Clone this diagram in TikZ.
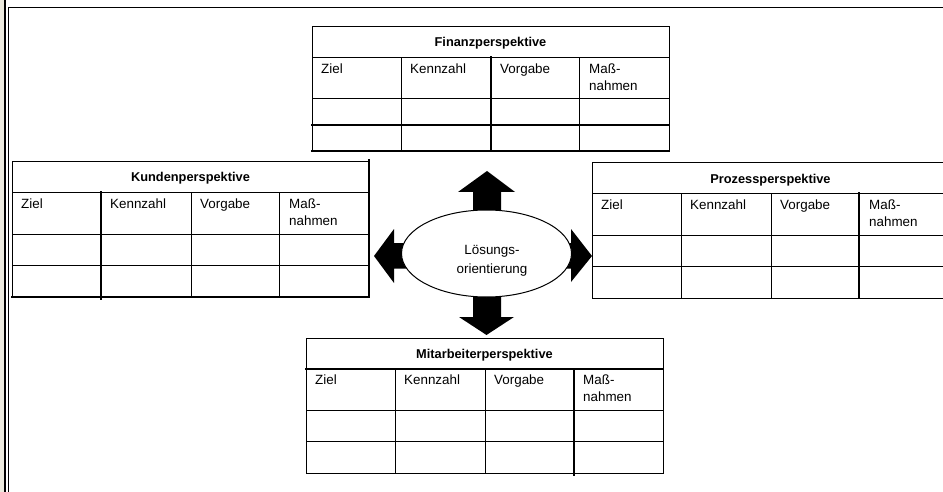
\documentclass[tikz,border=0pt]{standalone}
\usepackage{fontspec}
\setmainfont{Liberation Sans}
\usetikzlibrary{shapes.geometric}
\begin{document}
\definecolor{panel}{RGB}{236,234,222}
\tikzset{
  rule/.style={line width=1pt, line cap=rect},
  heavyrule/.style={line width=2pt, line cap=rect},
  tabtitle/.style={anchor=base, inner sep=0pt, font=\fontsize{12.8}{14}\selectfont\bfseries},
  tabhead/.style={anchor=base west, inner sep=0pt, font=\fontsize{13.4}{17}\selectfont},
  blockarrow/.style={fill=black},
  hubshape/.style={ellipse, draw, line width=1pt, fill=white, minimum width=170pt, minimum height=87pt, inner sep=0pt},
  hubtext/.style={align=center, inner sep=0pt, font=\fontsize{13.4}{18.5}\selectfont}
}
% #1 name, #2 left, #3 top, #4 body row height, #5 title, #6 heavier rules (local coordinates)
\newcommand\perspectivetable[6]{%
  \begin{scope}[shift={(#2,#3)}]
    \pgfmathsetmacro\ya{30.5}
    \pgfmathsetmacro\yb{72}
    \pgfmathsetmacro\yc{72+#4}
    \pgfmathsetmacro\yd{72+2*#4}
    \draw[rule] (0,0) rectangle (357,\yd);
    \draw[rule] (0,\ya) -- (357,\ya) (0,\yb) -- (357,\yb) (0,\yc) -- (357,\yc);
    \draw[rule] (89,\ya) -- (89,\yd) (179,\ya) -- (179,\yd) (267,\ya) -- (267,\yd);
    #6
    \node[tabtitle] (#1-title) at (178.5,20) {#5};
    \node[tabhead] (#1-ziel) at (9,46.5) {Ziel};
    \node[tabhead] (#1-kennzahl) at (98,46.5) {Kennzahl};
    \node[tabhead] (#1-vorgabe) at (188,46.5) {Vorgabe};
    \node[tabhead] (#1-massnahmen) at (277,46.5)
      {\begin{tabular}[t]{@{}l@{}}Maß-\\nahmen\end{tabular}};
  \end{scope}}
\begin{tikzpicture}[x=1pt, y=-1pt]
  \useasboundingbox (0,0) rectangle (943,492);
  % page edge and frame
  \fill[panel] (0,0) rectangle (4,492);
  \draw[line width=2pt] (5,0) -- (5,492);
  \draw[line width=1pt] (8.5,492) -- (8.5,7.5) -- (943,7.5);

  % the four perspectives
  \perspectivetable{fin}{312}{27}{26}{Finanzperspektive}{%
    \draw[heavyrule] (0,\yc) -- (357,\yc) (0,\yd) -- (357,\yd) (179,\ya) -- (179,\yd);}
  \perspectivetable{kun}{12}{162}{31.5}{Kundenperspektive}{%
    \draw[heavyrule] (0,\yd) -- (357,\yd) (89,\ya) -- (89,\yd+2) (357,-2) -- (357,\yd);}
  \perspectivetable{pro}{592}{163}{31.5}{Prozessperspektive}{%
    \draw[heavyrule] (267,\ya) -- (267,\yd);}
  \perspectivetable{mit}{306}{338}{31.5}{Mitarbeiterperspektive}{%
    \draw[heavyrule] (0,\ya) -- (357,\ya) (268,\ya) -- (268,\yd+2);}

  % block arrows leaving the centre
  \coordinate (tipN) at (487,171);
  \coordinate (tipS) at (486.5,335);
  \coordinate (tipW) at (374,256);
  \coordinate (tipE) at (592,256);
  \fill[blockarrow] (473,255) -- (473,192) -- (458,192) -- (tipN) -- (515,192) -- (501,192) -- (501,255) -- cycle;
  \fill[blockarrow] (473,255) -- (473,317) -- (459,317) -- (tipS) -- (514,317) -- (501,317) -- (501,255) -- cycle;
  \fill[blockarrow] (486,243) -- (394,243) -- (394,229) -- (tipW) -- (394,283) -- (394,268.5) -- (486,268.5) -- cycle;
  \fill[blockarrow] (486,243) -- (571,243) -- (571,229) -- (tipE) -- (571,282) -- (571,268.5) -- (486,268.5) -- cycle;

  % centre
  \node[hubshape] (hub) at (486.5,253.5) {};
  \node[hubtext] (hub-text) at (492,261) {Lösungs-\\orientierung};
\end{tikzpicture}
\end{document}
